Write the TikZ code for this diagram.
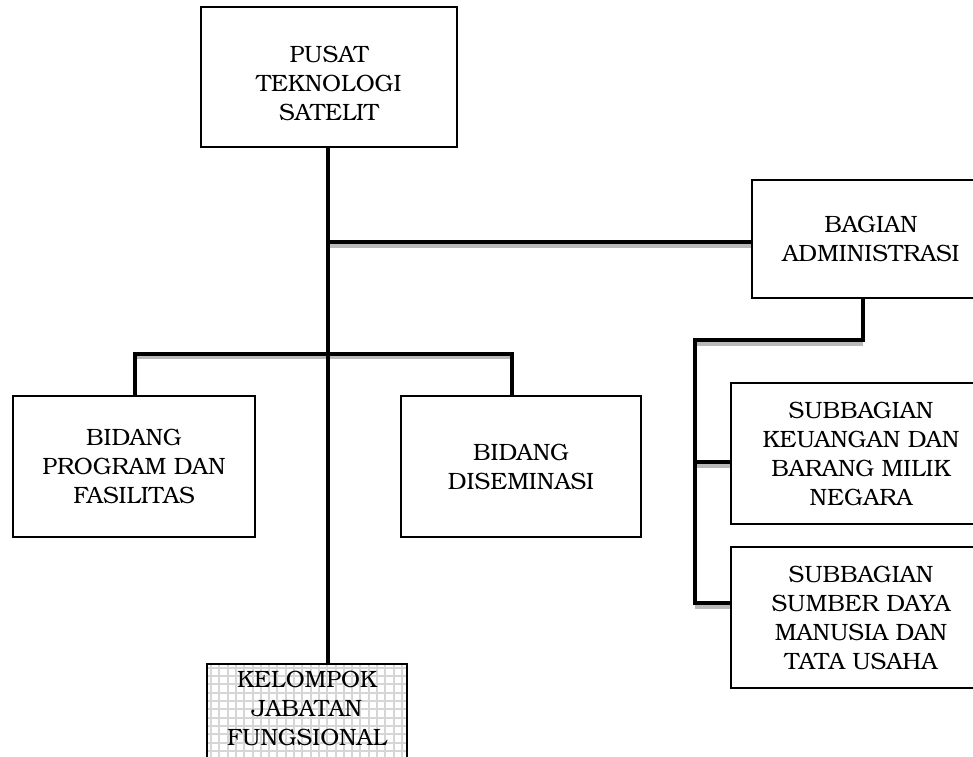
\documentclass[tikz,border=0pt]{standalone}
\usepackage{fontspec}
\setmainfont{TeX Gyre Bonum}
\usetikzlibrary{calc}
\tikzset{
  box/.style={draw, line width=1.6pt, rectangle, align=center, inner sep=0pt,
    font=\fontsize{23.6}{29}\selectfont},
  conn/.style={line width=4pt, black},
  shd/.style={line width=4pt, gray!55, transform canvas={yshift=-3.8pt}},
  gridln/.style={gray!32, line width=2pt},
}
\begin{document}
\begin{tikzpicture}[x=1pt,y=-1pt]
\useasboundingbox (0,0) rectangle (973,756);
\clip (0,0) rectangle (973,756);
% nodes
\node[box, minimum width=256, minimum height=140, text height=88pt] (pusat) at (329,77) {PUSAT\\TEKNOLOGI\\SATELIT};
\node[box, minimum width=238, minimum height=118] (bagian) at (871,239) {BAGIAN\\ADMINISTRASI};
\node[box, minimum width=242, minimum height=141] (prog) at (134,466.5) {BIDANG\\PROGRAM DAN\\FASILITAS};
\node[box, minimum width=240, minimum height=141] (dis) at (521,466.5) {BIDANG\\DISEMINASI};
\node[box, minimum width=260, minimum height=141] (keu) at (861,453.5) {SUBBAGIAN\\KEUANGAN DAN\\BARANG MILIK\\NEGARA};
\node[box, minimum width=260, minimum height=141] (sdm) at (861,617.5) {SUBBAGIAN\\SUMBER DAYA\\MANUSIA DAN\\TATA USAHA};
\node[box, minimum width=200, anchor=north, inner ysep=7pt, text depth=120pt, fill=white,
  path picture={
    \foreach \k in {4,12.3,...,210} {
      \draw[gridln] ([xshift=\k pt]path picture bounding box.north west) -- ++(0,300);
      \draw[gridln] ([yshift=-\k pt]path picture bounding box.north west) -- ++(300,0);
    }
  }] (kel) at (307,663) {KELOMPOK\\JABATAN\\FUNGSIONAL};
% coordinates
\coordinate (tb) at (328,242);
\coordinate (bl) at (135,353.5);
\coordinate (brr) at (512,353.5);
\coordinate (bk) at (863,340);
\coordinate (bq) at (695,340);
\coordinate (b1) at (695,462);
\coordinate (b2) at (695,603);
% shadows of horizontal segments
\draw[shd] (tb) -- (tb -| bagian.west);
\draw[shd] (bl) -- (brr);
\draw[shd] (bq) -- (bk);
\draw[shd] (b1) -- (b1 -| keu.west);
\draw[shd] (b2) -- (b2 -| sdm.west);
% connectors
\draw[conn] (tb |- pusat.south) -- (tb |- kel.north);
\draw[conn] (tb) -- (tb -| bagian.west);
\draw[conn] (bl |- prog.north) -- (bl) -- (brr) -- (brr |- dis.north);
\draw[conn] (bk |- bagian.south) -- (bk) -- (bq) -- (b2) -- (b2 -| sdm.west);
\draw[conn] (b1) -- (b1 -| keu.west);
\end{tikzpicture}
\end{document}
